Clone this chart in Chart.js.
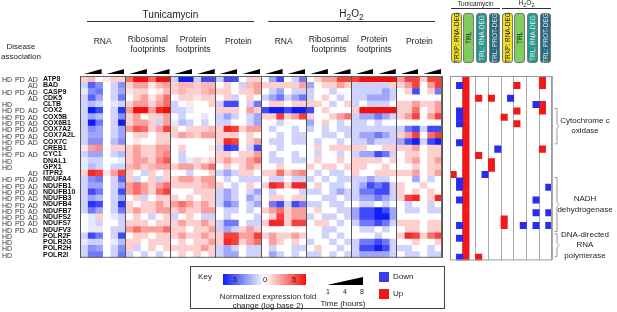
<!DOCTYPE html>
<html lang="en">
<head>
<meta charset="UTF-8">
<title>Heatmap</title>
<style>
  body {
    margin: 0;
    width: 617px;
    height: 312px;
    position: relative;
    overflow: hidden;
    background: #fff;
    font-family: "Liberation Sans", Arial, sans-serif;
    color: #222;
  }
  canvas { position: absolute; top: 0; }
  #heat { left: 0; }
  #sig { left: 446px; }
  .t {
    position: absolute;
    white-space: nowrap;
    transform: translate(-50%, -50%);
    line-height: 1;
  }
  .l { position: absolute; white-space: nowrap; transform: translateY(-50%); line-height: 1; }
  .rule { position: absolute; height: 0; border-top: 1px solid #333; }
  .wedge {
    position: absolute;
    background: #000;
    clip-path: polygon(0 100%, 100% 0, 100% 100%);
  }
  .pill {
    position: absolute;
    top: 13px;
    height: 50px;
    width: 11px;
    border: 1px solid #777;
    border-radius: 3px;
    box-sizing: border-box;
    display: flex;
    align-items: center;
    justify-content: center;
    font-size: 6.5px;
    writing-mode: vertical-rl;
    transform: rotate(180deg);
    white-space: nowrap;
  }
  #key {
    position: absolute;
    left: 190px;
    top: 266px;
    width: 255px;
    height: 43px;
    border: 1px solid #444;
    box-sizing: border-box;
  }
  #bar {
    position: absolute;
    left: 223px;
    top: 274px;
    width: 83px;
    height: 11px;
    background: linear-gradient(to right, rgb(15,30,245), #fff, rgb(245,15,10));
  }
  .sq { position: absolute; width: 10px; height: 10px; }
</style>
</head>
<body>
<canvas id="heat" width="443" height="262"></canvas>
<canvas id="sig" width="110" height="262"></canvas>
<svg id="brackets" width="617" height="312" style="position:absolute;left:0;top:0"></svg>
<div id="key"></div>
<div id="bar"></div>

<script src="https://cdn.jsdelivr.net/npm/chart.js"></script>
<script>
    // ---- data ----
    const genes = ['ATP8', 'BAD', 'CASP9', 'CDK5', 'CLTB', 'COX2', 'COX5B', 'COX6B1', 'COX7A2', 'COX7A2L',
        'COX7C', 'CREB1', 'CYC1', 'DNAL1', 'GPX1', 'ITPR2', 'NDUFA4', 'NDUFB1', 'NDUFB10', 'NDUFB3',
        'NDUFB4', 'NDUFB7', 'NDUFS2', 'NDUFS7', 'NDUFV3', 'POLR2F', 'POLR2G', 'POLR2H', 'POLR2I'];
    const diseases = ['HD PD AD', 'AD', 'HD PD AD', 'AD', 'HD', 'HD PD AD', 'HD PD AD', 'HD PD AD', 'HD PD AD',
        'HD PD AD', 'HD PD AD', 'HD', 'HD PD AD', 'HD', 'HD', 'AD', 'HD PD AD', 'HD PD AD', 'HD PD AD',
        'HD PD AD', 'HD PD AD', 'HD PD AD', 'HD PD AD', 'HD PD AD', 'HD PD AD', 'HD', 'HD', 'HD', 'HD'];
    const treatments = ['Tunicamycin', 'H<sub>2</sub>O<sub>2</sub>'];
    const assays = [['RNA'], ['Ribosomal', 'footprints'], ['Protein', 'footprints'], ['Protein']];
    const timeTicks = [1, 4, 8];

    // log2 fold change, per gene: replicate 1 (1h, 4h, 8h), replicate 2 (1h, 4h, 8h)
    const tmRna = [
        [1, 1.5, 0, 0.5, 1, 1], [-1, -3.5, -2.5, 0, -1, -2.5], [-0.5, -2.5, -3, 0, -1, -2], [-1, -3.5, -2, 0, -1, -3],
        [-1, -1.5, -1, 0, -0.5, -1], [-1, -5, -4, 0, -1, -4.5], [-1, -2, -1.5, 0, -1, -2.5], [-1, -5, -3, 0, -1, -5],
        [-1, -2.5, -2, 0, -1, -2], [-1, -2, -2, 0, -1, -2], [-1, -2.5, -2.5, 0, -1.5, -2.5], [0.5, 2, 2.5, 0, 1, 1],
        [-1, -2, -2, 0, -1, -1.5], [-0.5, -1, -1, 0, 0, -0.5], [-0.5, -1.5, -1, 0, -1, -1], [1, 4.5, 4, 0.5, 2, 4],
        [-1, -2.5, -3, 0, -1, -3.5], [-1, -2, -2, 0, -1, -2], [-1, -4, -3, 0, -1, -4], [-1, -2, -1.5, 0, -1, -2],
        [-1, -4.5, -4, 0, -1, -4.5], [-1, -3, -2, 0, -1, -3], [0, -0.5, 1, 0, -0.5, -1], [0, -0.5, -1, 0, 0, -1],
        [0, -0.5, -0.5, 0, -1, -1], [-1, -4, -3, 0, -1, -4], [-0.5, -1, -1, 0, -0.5, -1.5], [-1, -2.5, -2, 0, -1, -2.5],
        [-1, -3, -3, 0, -1, -3]
    ];
    const tmRibo = [
        [3, 5, 5, 3, 5, 5], [1, 2, 2, 0.5, 1.5, 2], [0.5, 1, 1, 0, 0.5, 1.5], [0, 1, 2, 0.5, 1.5, 3],
        [1, 2, 2, 1, 2, 3], [2, 5, 5, 2, 4.5, 5], [1, 2, 0, 1, 1, 2], [1, 2, 2, 1, -1, 2],
        [2, 3.5, 3, 1, 2, 4], [0, 1, 1, 0, 1, 1], [0, 0.5, 0, 0, 1, 1], [1, 2, 1, 1, 2, 2],
        [1, 2, 1, 1, 2, 2.5], [1, 2, 2, 1, 2.5, 3.5], [1.5, 2, 1, 1.5, 2, 2], [1, 0, -1, 1, 0, 1],
        [1, -1, 0, 1, -1, 1], [2, 3, 2, 1, 2, 3], [2, 3, 2, 1, 3, 4], [0, 1, -1, 0, 1, 1],
        [1, 0, 1, 1, 2, 1], [1, 2, 1, 1, 2, 2], [0, 1, 0, -1, 0, 1], [1, 1, 1, 0, 1, 1],
        [2, 3, 2, 2, 2, 3], [0, 1, 1, 0, 1, 1], [1, 1, 0, 1, 1, 1], [1, -1, 0, 1, 0, 1],
        [-1, 0, -1, 0, -1, 0]
    ];
    const tmProtFp = [
        [-1, -5, -5, -1, -4, -4], [1, 1.5, 1.5, 1, 1.5, 1.5], [1, 1.5, 1, 1, 1.5, 2], [0, 1, 1, 0.5, 1, 1],
        [-1, 0, 0.5, 0, 0, 1], [-1, -1, -0.5, 0, 0, 0], [0, -1, 0, 0, -0.5, 0], [-0.5, -1.5, -1, 0, -1, 0],
        [1, 0, 1, 1, 1, 1.5], [1, 2, 1.5, 1, 2, 2], [0, 0, 0, 0, 0, 0], [0, 1, 0, 0, 0, 0.5],
        [0, -1, 0, 0, 0, 0], [0, -1, -0.5, 1, 0.5, 1], [1, 2, 2, 1, 2, 3], [0, 0, -1, 0, 0, 1],
        [1, 2, 2, 1, 2, 2], [1, 1, 1, 1, 1.5, 2], [0, 0, 0, 1, 1, 1], [1, 0, 1, 0, 1, 1],
        [2, 3, 2, 1, 2, 1], [1, 2, 1, 1, 2, 2], [-1, 0, 1, 0, -1, -1], [1, 2, 1, 1, 2, 1],
        [1, 1, 0, 1, 1, 2], [1, 2, 1, 1, 2, 1], [0, 1, 0, 1, 1, 2], [1, 1, 1, 1, 2, 1],
        [0, 1, 0, 1, 0, 1]
    ];
    const tmProt = [
        [-1, -4, -4, 0, 1, 1], [0, 1, 0, -1, 1.5, 2], [1, 1, 0, 1, 1, 2], [0, 1, -1, 0, 1, 0],
        [-1, -4, -4, 0, -1, -3], [1, 1, 1, 0, 2, 1], [-1, -2, -1, 0, -1, -2], [-1, -1, 0, 0, -1, -2],
        [1, 4.5, 4, 1, 2, 2], [1, 1, 1, 0, 1, 0], [1, 4.5, 4, 0, 1, 2], [-1, -4.5, -4, 0, -1, -4],
        [1, 1, 0, 1, 1, 2], [1, 2, 1, 1, 2, 3], [0, 1, 0, 1, 2, 1], [-1, -2, -1, 1, 1, 0],
        [0, -1, 0, -1, -1, -1], [1, 0, -1, 0, 1, 0], [-1, -2, -1, 0, -1, -2], [-1, -2, -1, 0, -2, -1],
        [-1, -3, -2, 0, -1, -2], [0, -1, -1, 0, -1, 0], [0, -1, 0, 0, 0, -1], [-1, -3, -3, 0, -1, -1],
        [-1, -2, -1, 1, 2, 1], [1, 4, 4, 2, 2, 4], [1, 4.5, 4, 1, 2, 3], [-1, -2, -1, 0, -1, -1],
        [-1, -2, -2, 0, -1, -1]
    ];
    const hpRna = [
        [0, -2, -4, 0, -1, -3], [1, 1, 1, 1, 1, 2], [0, -1, -2, 0, -1, -1], [-1, -2, -3, -1, -2, -3],
        [0, 1, 1, 0, 1, 1], [-4, -5, -5, -4, -5, -5], [1, 1, 4, 1, 2, 4], [0, 0, -1, 0, 0, 0],
        [0, -1, 0, 0, -1, 0], [0, 0, -1, 0, -1, -1], [0, -1, -1, 0, -1, -1], [0, 0, -1, 0, 0, 0],
        [0, -1, 0, 0, -1, 0], [0, -1, -1, 0, -1, -1], [0, 0, 1, 0, 0, 0], [1, 1, 3, 1, 2, 2.5],
        [0, -1, -1, 0, -1, -1], [1, 4.5, 4, 1, 4.5, 4.5], [0, -1, 0, 0, 0, -1], [0, 1, 1, 0, 1, 1],
        [0, -3, -4, -1, -4, -3], [1, 2, 3, 1, 2, 2], [0, 1, 4, 1, 2, 2], [1, 4.5, 4.5, 1, 4, 4],
        [0, 0, 0, 0, 0, 0], [1, 2, 1, 1, 2, 1], [0, 2, 1, 0, 1, 0], [0, -1, 0, 0, -1, -1],
        [0, -2, -1, 0, -1, 0]
    ];
    const hpRibo = [
        [0, 1, 2, 2, 4, 4], [-2, 0, 1, 1, 2, 1], [-1, 0, 0, -1, 0, 0], [-1, 0, 1, 0, -1, 0],
        [1, 1, 0, -1, 0, 1], [-4, 0, 1, 0, 0, 0], [1, 0, 0, 1, 2, 3], [-2, 0, 1, 0, -1, 0],
        [-1, 0, -1, 0, -1, -1], [0, 0, -1, -1, 0, -1], [0, -1, 0, 0, -1, 0], [0, 1, 0, 1, 1, 1],
        [0, -1, 0, 0, -1, 0], [0, 1, 0, 0, 1, 0], [1, 0, 1, 1, 0, 1], [0, -1, 0, -1, -1, 0],
        [-1, 0, -1, 0, -1, -1], [0, 1, 0, -1, -1, 0], [-1, -1, 0, -1, -2, -1], [0, 0, -1, -1, 0, -1],
        [-1, -1, 0, -1, -1, 0], [0, 1, 0, 0, -1, -1], [-1, 0, -1, -1, 0, -1], [0, 1, 1, 0, -1, 0],
        [0, 0, -1, -1, 0, 0], [0, 0, -1, 0, -1, 0], [-1, 0, 0, -1, 0, -1], [0, 1, 0, 0, -1, 0],
        [-1, -1, 0, -1, 0, -1]
    ];
    const hpProtFp = [
        [4, 5, 5, 5, 5, 5], [-1, -1, -1, -1, -1, 1], [-1, -1, -1, -1, -2, -1], [-1, -1, -2, -2, -2, -1],
        [-1, 0, -1, -1, -1, 0], [1, 5, 5, 5, 5, 5], [-1, -2, -2, -3, -2, -1], [-1, -1, 0, -1, 0, 0],
        [-1, -1, -1, -1, -1, -1], [-1, -2, -2, -3, -2, -1], [-1, -1, -2, -1, -1, -1], [1, 1, 0, 0, 1, 1],
        [-1, -2, -2, -4, -3, -1], [1, 1, 1, 1, 0, 1], [1, 1, 0, 0, 1, 0], [1, 0, 0, 1, 1, 1],
        [-1, -1, -2, -1, -1, 0], [-1, -2, -4, -3, -4, -1], [-1, -3, -3, -4, -4, -1], [-1, -2, -2, -3, -2, -1],
        [0, -1, -1, 0, -1, 0], [-2, -4, -4, -5, -4, -2], [-2, -4, -4, -5, -5, -2], [-1, -3, -3, -4, -3, -1],
        [0, -1, -1, 0, -1, 0], [0, 0, 0, -1, 0, 0], [-1, -3, -3, -4, -3, -1], [-1, -4, -4, -5, -4, -1],
        [-1, -2, -2, -2, -2, -1]
    ];
    const hpProt = [
        [2, 4, 4, 1, 4, 4], [1, 2, 4, 0, 2, 4], [0, 1, -4, 0, 1, -3], [0, 0, 0, 0, 0, 0],
        [1, 1, 2, 1, 1, 2], [1, 1, 3, 0, 1, 2], [1, 2, 4, 0, 2, 4], [0, 0, 0, 0, 0, 0],
        [-1, -3, -4, -1, -4, -4], [1, 2, 4, 0, 3, 4], [-2, -4, -5, -1, -4, -5], [1, 1, 2, 0, 1, 1],
        [0, 1, 1, 0, 1, 1], [0, 1, 2, 0, 1, 2], [0, 0, 1, 0, 1, 1], [1, 1, 2, 0, 1, 2],
        [0, 0, -2, 0, -1, 0], [1, 0, 0, 1, 0, 0], [1, 0, 1, 0, 1, 0], [1, 4, 4.5, 0, 1, 4.5],
        [0, -1, 0, 0, -1, 0], [0, -1, -1, 0, -1, -1], [0, 0, 0, 0, 0, 0], [1, 1, 1, 0, 1, 1],
        [0, 1, 1, 0, 1, 1], [1, 4.5, 4, 1, 3, 4], [0, 0, 1, 0, 0, 1], [-1, -1, 0, 0, -1, 0],
        [0, -1, -1, 0, -1, -1]
    ];

    // differential expression calls (up = red, down = blue)
    const tmTrxpRnaDeg = { up: ['ITPR2'], down: ['BAD', 'COX2', 'COX5B', 'COX6B1', 'COX7C', 'NDUFA4', 'NDUFB1', 'NDUFB3', 'NDUFS7', 'POLR2F', 'POLR2I'] };
    const tmTrl = { up: genes.slice(), down: [] };
    const tmTrlRnaDeg = { up: ['CDK5', 'CYC1', 'POLR2I'], down: ['ITPR2'] };
    const tmTrlProtDeg = { up: ['CDK5', 'DNAL1', 'GPX1'], down: ['CREB1'] };
    const hpTrxpRnaDeg = { up: ['COX5B', 'NDUFS2', 'NDUFS7'], down: ['CDK5'] };
    const hpTrl = { up: ['BAD', 'COX2', 'COX6B1'], down: ['NDUFS7'] };
    const hpTrlRnaDeg = { up: [], down: ['CLTB', 'NDUFB3', 'NDUFB7', 'NDUFS7'] };
    const hpTrlProtDeg = { up: ['ATP8', 'BAD', 'CLTB', 'COX2', 'CREB1'], down: ['NDUFB1', 'NDUFB7', 'NDUFS7'] };

    const sigTracks = [tmTrxpRnaDeg, tmTrl, tmTrlRnaDeg, tmTrlProtDeg, hpTrxpRnaDeg, hpTrl, hpTrlRnaDeg, hpTrlProtDeg];
    const sigNames = ['TRXP: RNA-DEG', 'TRL', 'TRL: RNA-DEG', 'TRL: PROT-DEG'];
    const sigFill = [['#efe02c', '#222'], ['#7fcd5c', '#222'], ['#23998b', '#e8e8e8'], ['#266a84', '#e0e0e0']];

    const annotations = [
        { lines: ['Cytochrome c', 'oxidase'], from: 'COX2', to: 'COX7C' },
        { lines: ['NADH', 'dehydrogenase'], from: 'NDUFA4', to: 'NDUFV3' },
        { lines: ['DNA-directed', 'RNA', 'polymerase'], from: 'POLR2F', to: 'POLR2I' }
    ];

    // ---- helpers ----
    function heatColor(v) {
        const t = Math.max(-1, Math.min(1, v / 5));
        const end = t < 0 ? [15, 30, 245] : [245, 15, 10];
        const a = Math.abs(t);
        const c = end.map(e => Math.round(255 + (e - 255) * a));
        return 'rgb(' + c.join(',') + ')';
    }

    function put(html, x, y, size, cls, extra) {
        var d = document.createElement('div');
        d.className = cls || 't';
        d.innerHTML = html;
        d.style.left = x + 'px';
        d.style.top = y + 'px';
        d.style.fontSize = size + 'px';
        if (extra) Object.assign(d.style, extra);
        document.body.appendChild(d);
        return d;
    }

    const outline = {
        id: 'outline',
        afterDatasetsDraw(chart, args, opts) {
            const a = chart.chartArea, ctx = chart.ctx;
            ctx.save();
            ctx.strokeStyle = opts.color;
            ctx.lineWidth = 1;
            ctx.strokeRect(a.left + 0.5, a.top + 0.5, a.right - a.left - 1, a.bottom - a.top - 1);
            ctx.restore();
        }
    };

    Chart.defaults.font.family = '"Liberation Sans", Arial, sans-serif';
    Chart.defaults.animation = false;

    // ---- heatmap ----
    const heatGroups = [tmRna, tmRibo, tmProtFp, tmProt, hpRna, hpRibo, hpProtFp, hpProt];
    const nCols = heatGroups.length * 6;
    const heatDatasets = [];
    for (let c = 0; c < nCols; c++) {
        const grp = heatGroups[Math.floor(c / 6)];
        heatDatasets.push({
            data: genes.map(() => 1),
            backgroundColor: genes.map((g, r) => heatColor(grp[r][c % 6])),
            borderWidth: 0,
            barPercentage: 1,
            categoryPercentage: 1
        });
    }

    const heat = new Chart(document.getElementById('heat'), {
        type: 'bar',
        data: { labels: genes, datasets: heatDatasets },
        options: {
            indexAxis: 'y',
            responsive: false,
            layout: { padding: { left: 43, top: 76, right: 1, bottom: 1.6 } },
            plugins: { legend: { display: false }, tooltip: { enabled: false }, outline: { color: '#666' } },
            scales: {
                x: {
                    type: 'linear', min: 0, max: nCols, stacked: true,
                    ticks: { display: false, stepSize: 6 },
                    grid: { color: '#555', lineWidth: 1, drawTicks: false, z: 1 },
                    border: { display: false },
                    afterFit: s => { s.height = 0; }
                },
                y: {
                    stacked: true,
                    grid: { display: false },
                    border: { display: false },
                    ticks: { color: '#111', font: { size: 7, weight: 'bold' }, crossAlign: 'far', padding: 0, autoSkip: false },
                    afterFit: s => { s.width = 37; }
                }
            }
        },
        plugins: [outline]
    });

    // ---- DEG marks ----
    const sigDatasets = [];
    sigTracks.forEach((tr, k) => {
        sigDatasets.push({
            data: genes.map(g => tr.up.includes(g) ? [k, k + 0.5] : null),
            backgroundColor: '#f01818', grouped: false, barPercentage: 1, categoryPercentage: 1, borderWidth: 0
        });
        sigDatasets.push({
            data: genes.map(g => tr.down.includes(g) ? [k + 0.5, k + 1] : null),
            backgroundColor: '#2b2bf0', grouped: false, barPercentage: 1, categoryPercentage: 1, borderWidth: 0
        });
    });

    const sigCanvas = document.getElementById('sig');
    const sig = new Chart(sigCanvas, {
        type: 'bar',
        data: { labels: genes, datasets: sigDatasets },
        options: {
            indexAxis: 'y',
            responsive: false,
            layout: { padding: { left: 4, top: 76, right: 4, bottom: 1.6 } },
            plugins: { legend: { display: false }, tooltip: { enabled: false }, outline: { color: '#999' } },
            scales: {
                x: {
                    type: 'linear', min: 0, max: sigTracks.length,
                    ticks: { display: false, stepSize: 1 },
                    grid: { color: '#aaa', drawTicks: false },
                    border: { display: false },
                    afterFit: s => { s.height = 0; }
                },
                y: { display: false }
            }
        },
        plugins: [outline]
    });

    // ---- text and decorations ----
    const xs = heat.scales.x, ys = heat.scales.y;
    const sigLeft = sigCanvas.offsetLeft;
    const xr = v => sig.scales.x.getPixelForValue(v) + sigLeft;

    put('Disease', 21, 47, 8);
    put('association', 21, 57, 8);
    const dPos = { HD: 2, PD: 15, AD: 28 };
    diseases.forEach((d, i) => {
        d.split(' ').forEach(code => {
            put(code, dPos[code], ys.getPixelForValue(i), 7, 'l', { color: '#333' });
        });
    });

    treatments.forEach((name, t) => {
        const a = xs.getPixelForValue(t * 24), b = xs.getPixelForValue(t * 24 + 24);
        put(name, (a + b) / 2, 15, 10);
        const r = document.createElement('div');
        r.className = 'rule';
        r.style.left = (a + 7) + 'px';
        r.style.width = (b - a - 14) + 'px';
        r.style.top = '21px';
        document.body.appendChild(r);
        assays.forEach((lines, g) => {
            const cx = xs.getPixelForValue(t * 24 + g * 6 + 3);
            if (lines.length === 1) put(lines[0], cx, 41, 8.5);
            else { put(lines[0], cx, 39, 8.5); put(lines[1], cx, 49, 8.5); }
        });
    });

    // time wedges over each replicate
    for (let k = 0; k < nCols / 3; k++) {
        const a = xs.getPixelForValue(k * 3), b = xs.getPixelForValue(k * 3 + 3);
        const w = document.createElement('div');
        w.className = 'wedge';
        w.style.left = (a + 4) + 'px';
        w.style.width = (b - a - 5) + 'px';
        w.style.top = '69px';
        w.style.height = '5px';
        document.body.appendChild(w);
    }

    // DEG header
    treatments.forEach((name, t) => {
        const a = xr(t * 4), b = xr(t * 4 + 4);
        put(name, (a + b) / 2, 4, 6.5);
        const r = document.createElement('div');
        r.className = 'rule';
        r.style.left = (a + 0.5) + 'px';
        r.style.width = (b - a - 2) + 'px';
        r.style.top = '8px';
        document.body.appendChild(r);
    });
    sigTracks.forEach((tr, k) => {
        const p = document.createElement('div');
        p.className = 'pill';
        p.textContent = sigNames[k % 4];
        p.style.left = (xr(k) + 0.5) + 'px';
        p.style.background = sigFill[k % 4][0];
        p.style.color = sigFill[k % 4][1];
        document.body.appendChild(p);
    });

    // brackets + labels
    const svg = document.getElementById('brackets');
    let paths = '';
    annotations.forEach(an => {
        const i0 = genes.indexOf(an.from), i1 = genes.indexOf(an.to);
        const y0 = ys.getPixelForValue(i0) - 2, y1 = ys.getPixelForValue(i1) + 2;
        const m = (y0 + y1) / 2, x = 554.5;
        paths += '<path d="M' + x + ',' + y0 + ' h2.5 v' + (m - y0 - 2) + ' l2,2 l-2,2 v' + (y1 - m - 2) +
            ' h-2.5" fill="none" stroke="#999" stroke-width="1"/>';
        const n = an.lines.length;
        an.lines.forEach((ln, j) => put(ln, 585, m + (j - (n - 1) / 2) * 10.5, 8));
    });
    svg.innerHTML = paths;

    // ---- key ----
    put('Key', 205, 277, 8);
    put('-5', 234, 279.5, 7.5);
    put('0', 265, 279.5, 7.5);
    put('5', 294, 279.5, 7.5);
    put('Normalized expression fold', 268, 297, 8);
    put('change (log base 2)', 268, 305.5, 8);
    const tw = document.createElement('div');
    tw.className = 'wedge';
    Object.assign(tw.style, { left: '327px', top: '277px', width: '36px', height: '8px' });
    document.body.appendChild(tw);
    const tickX = [328, 345, 362];
    timeTicks.forEach((t, i) => put(String(t), tickX[i], 290.5, 7));
    put('Time (hours)', 343, 304, 8);
    const dn = document.createElement('div');
    dn.className = 'sq';
    Object.assign(dn.style, { left: '379px', top: '272px', background: '#3a3af2' });
    document.body.appendChild(dn);
    const upq = document.createElement('div');
    upq.className = 'sq';
    Object.assign(upq.style, { left: '379px', top: '289px', background: '#f01818' });
    document.body.appendChild(upq);
    put('Down', 393, 277, 8, 'l');
    put('Up', 393, 294, 8, 'l');
</script>
</body>
</html>
